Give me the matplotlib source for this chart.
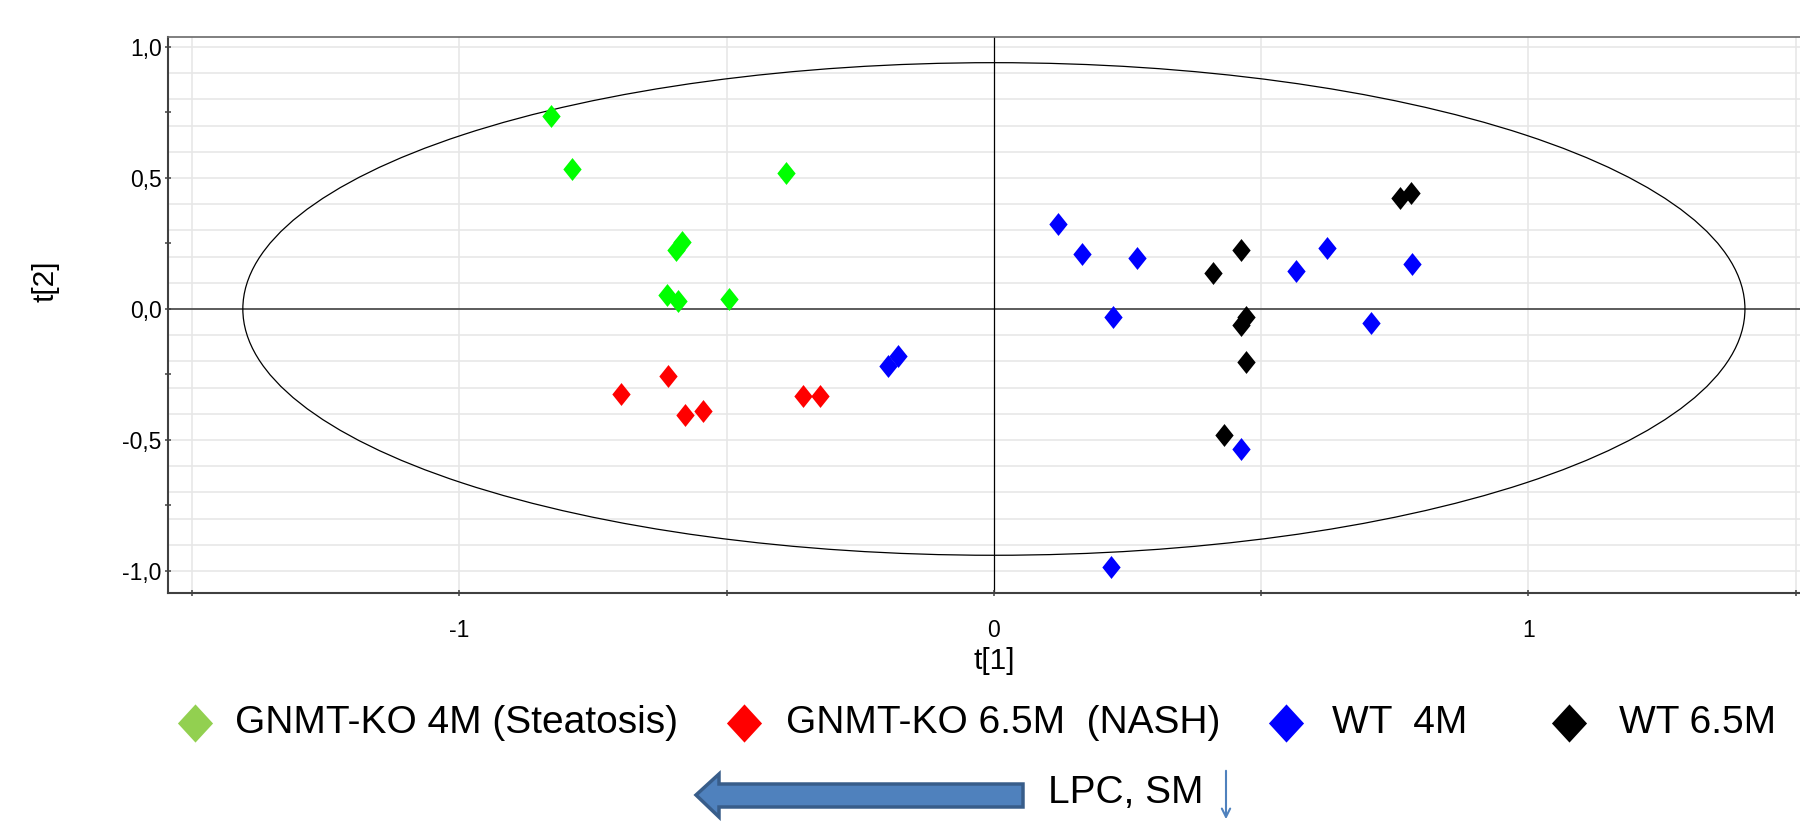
import matplotlib
matplotlib.use("Agg")
import matplotlib.pyplot as plt
import numpy as np
from matplotlib.path import Path
from matplotlib.patches import Ellipse, Polygon
from matplotlib.lines import Line2D
from matplotlib.ticker import MultipleLocator, FixedLocator, FixedFormatter

plt.rcParams['font.family'] = ['Liberation Sans', 'DejaVu Sans']
plt.rcParams['axes.unicode_minus'] = False

# Scores (t[1], t[2])
ko4_t1 = [-0.828, -0.789, -0.388, -0.583, -0.595, -0.612, -0.591, -0.495]
ko4_t2 = [0.738, 0.534, 0.519, 0.257, 0.225, 0.053, 0.032, 0.038]

ko65_t1 = [-0.698, -0.610, -0.578, -0.545, -0.358, -0.325]
ko65_t2 = [-0.323, -0.254, -0.406, -0.391, -0.331, -0.331]

wt4_t1 = [-0.199, -0.179, 0.119, 0.164, 0.267, 0.222, 0.565, 0.624, 0.783, 0.705, 0.462, 0.219]
wt4_t2 = [-0.216, -0.179, 0.324, 0.211, 0.196, -0.029, 0.144, 0.234, 0.173, -0.052, -0.533, -0.985]

wt65_t1 = [0.462, 0.410, 0.472, 0.462, 0.472, 0.430, 0.759, 0.781]
wt65_t2 = [0.226, 0.136, -0.029, -0.062, -0.202, -0.481, 0.422, 0.444]

# Hotelling T2 ellipse semi-axes
ell_a = 1.405
ell_b = 0.94

labels = ['GNMT-KO 4M (Steatosis)', 'GNMT-KO 6.5M  (NASH)', 'WT  4M', 'WT 6.5M']
point_colors = ['#00FF00', '#FF0000', '#0000FF', '#000000']
legend_colors = ['#92D050', '#FF0000', '#0000FF', '#000000']

W, H = 1800, 825

def fx(px):
    return px / W

def fy(py):
    return 1 - py / H

# slightly narrow diamond like the SIMCA markers
diamond = Path([(0, 1), (0.8, 0), (0, -1), (-0.8, 0), (0, 1)],
               [Path.MOVETO, Path.LINETO, Path.LINETO, Path.LINETO, Path.CLOSEPOLY])
big_diamond = Path([(0, 1), (0.92, 0), (0, -1), (-0.92, 0), (0, 1)],
                   [Path.MOVETO, Path.LINETO, Path.LINETO, Path.LINETO, Path.CLOSEPOLY])

fig = plt.figure(figsize=(18, 8.25), dpi=100)
ax = fig.add_axes([fx(168), fy(593), fx(1800) - fx(168), fy(37) - fy(593)])

ax.set_xlim(-1.545, 1.508)
ax.set_ylim(-1.084, 1.038)

# grid
for gx in [-1.5, -1.0, -0.5, 0.5, 1.0, 1.5]:
    ax.axvline(gx, color='#e6e6e6', lw=1.1, zorder=0)
for gy in np.arange(-10, 11) / 10:
    ax.axhline(gy, color='#e6e6e6', lw=1.1, zorder=0)

ax.axhline(0, color='#505050', lw=1.3, zorder=1)
ax.axvline(0, color='black', lw=0.9, zorder=1)

ax.add_patch(Ellipse((0, 0), 2 * ell_a, 2 * ell_b, fill=False, edgecolor='black', lw=0.9, zorder=2))

groups = [(ko4_t1, ko4_t2), (ko65_t1, ko65_t2), (wt4_t1, wt4_t2), (wt65_t1, wt65_t2)]
for (t1, t2), c in zip(groups, point_colors):
    ax.plot(t1, t2, linestyle='none', marker=diamond, markersize=16.5,
            color=c, markeredgewidth=0, zorder=3)

# ticks
ax.xaxis.set_major_locator(FixedLocator([-1, 0, 1]))
ax.xaxis.set_major_formatter(FixedFormatter(['-1', '0', '1']))
ax.xaxis.set_minor_locator(FixedLocator([-1.5, -0.5, 0.5, 1.5]))
ax.yaxis.set_major_locator(FixedLocator([-1.0, -0.5, 0.0, 0.5, 1.0]))
ax.yaxis.set_major_formatter(FixedFormatter(['-1,0', '-0,5', '0,0', '0,5', '1,0']))
ax.yaxis.set_minor_locator(MultipleLocator(0.25))
ax.tick_params(which='both', direction='inout', length=5, width=1.1, color='#404040')
ax.tick_params(axis='y', labelsize=16.5, pad=2)
ax.tick_params(axis='x', labelsize=16.5, pad=16)

for s in ['left', 'bottom']:
    ax.spines[s].set_color('#404040')
    ax.spines[s].set_linewidth(1.5)
ax.spines['top'].set_color('#6a6a6a')
ax.spines['top'].set_linewidth(1.2)
ax.spines['right'].set_visible(False)

fig.text(fx(46), fy(281), 't[2]', fontsize=21.5, rotation=90, ha='center', va='center')
fig.text(fx(994), fy(661), 't[1]', fontsize=21.5, ha='center', va='center')

# legend row below the plot
marker_x = [195, 744, 1286, 1569]
text_x = [235, 786, 1332, 1619]
for mx, tx, lab, c in zip(marker_x, text_x, labels, legend_colors):
    fig.add_artist(Line2D([fx(mx)], [fy(723)], transform=fig.transFigure, linestyle='none',
                          marker=big_diamond, markersize=27.5, color=c, markeredgewidth=0))
    fig.text(fx(tx), fy(723), lab, fontsize=28, ha='left', va='center')

# big left arrow
arrow_pts = [(696, 795), (719, 774), (719, 784), (1023, 784), (1023, 807), (719, 807), (719, 817)]
fig.add_artist(Polygon([(fx(px), fy(py)) for px, py in arrow_pts], closed=True,
                       transform=fig.transFigure, facecolor='#4F81BD', edgecolor='#385D8A', lw=2.5))
fig.text(fx(1048), fy(793), 'LPC, SM', fontsize=28, ha='left', va='center')
fig.add_artist(matplotlib.patches.FancyArrowPatch((fx(1226), fy(768)), (fx(1226), fy(822)),
                                                  transform=fig.transFigure, arrowstyle='->,head_length=6,head_width=3',
                                                  color='#4F81BD', lw=1.5))

fig.savefig('out.png', dpi=100)
